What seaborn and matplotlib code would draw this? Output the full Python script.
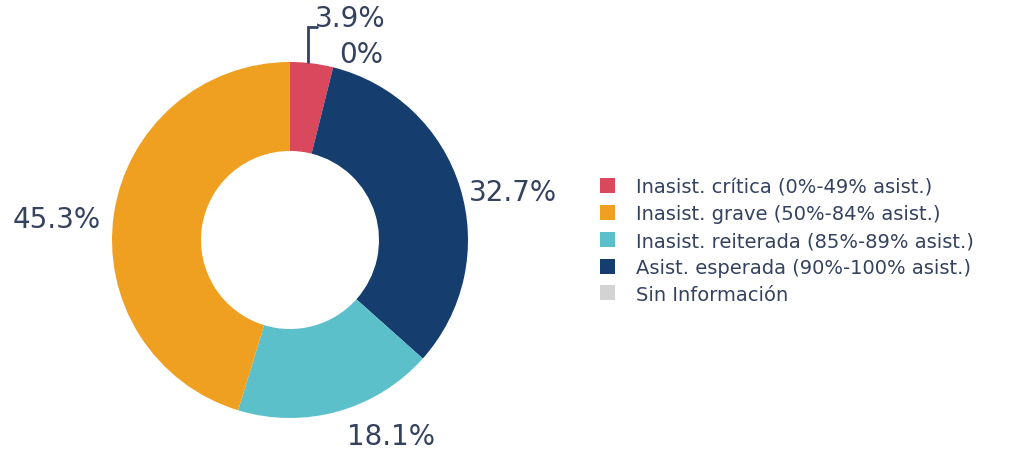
import matplotlib
matplotlib.use("Agg")
import matplotlib.pyplot as plt
import seaborn as sns
from matplotlib.patches import Patch

sns.set_theme(style="white")
plt.rcParams["font.family"] = ["DejaVu Sans"]

# datos (orden horario desde arriba)
categorias = ["Inasist. crítica (0%-49% asist.)", "Sin Información",
              "Asist. esperada (90%-100% asist.)", "Inasist. reiterada (85%-89% asist.)",
              "Inasist. grave (50%-84% asist.)"]
valores = [3.9, 0.0, 32.7, 18.1, 45.3]
etiquetas = ["3.9%", "0%", "32.7%", "18.1%", "45.3%"]
colores = ["#d9485c", "#d3d3d3", "#153e6f", "#5cc0cb", "#f0a021"]

orden_leyenda = ["Inasist. crítica (0%-49% asist.)", "Inasist. grave (50%-84% asist.)",
                 "Inasist. reiterada (85%-89% asist.)", "Asist. esperada (90%-100% asist.)",
                 "Sin Información"]

# posiciones de texto (coordenadas de datos, radio externo = 1)
pos_etiquetas = [(0.34, 1.25), (0.40, 1.045), (1.25, 0.27), (0.57, -1.10), (-1.31, 0.12)]
texto_color = "#34425e"

fig = plt.figure(figsize=(10.25, 4.52), dpi=100)
ax = fig.add_axes([0, 0, 580 / 1025, 1])
ax.pie(valores, colors=colores, startangle=90, counterclock=False,
       radius=1, wedgeprops=dict(width=0.5, linewidth=0))
ax.set_xlim(-290 / 178, 290 / 178)
ax.set_ylim(-211 / 178, 241 / 178)
ax.set_aspect("auto")
ax.axis("off")

for txt, (x, y) in zip(etiquetas, pos_etiquetas):
    ax.text(x, y, txt, ha="center", va="center", fontsize=20, color=texto_color)

# línea guía para 3.9%
ax.plot([0.101, 0.101, 0.15], [1.0, 1.197, 1.197], color=texto_color, lw=2,
        solid_joinstyle="miter", clip_on=False)

col = dict(zip(categorias, colores))
handles = [Patch(facecolor=col[c], edgecolor="none", label=c) for c in orden_leyenda]
leg = fig.legend(handles=handles, loc="upper left", bbox_to_anchor=(582 / 1025, 1 - 161 / 452),
                 frameon=False, fontsize=14, handlelength=0.8, handleheight=0.8,
                 handletextpad=1.1, labelspacing=0.4)
for t in leg.get_texts():
    t.set_color(texto_color)

fig.savefig("out.png", dpi=100)
